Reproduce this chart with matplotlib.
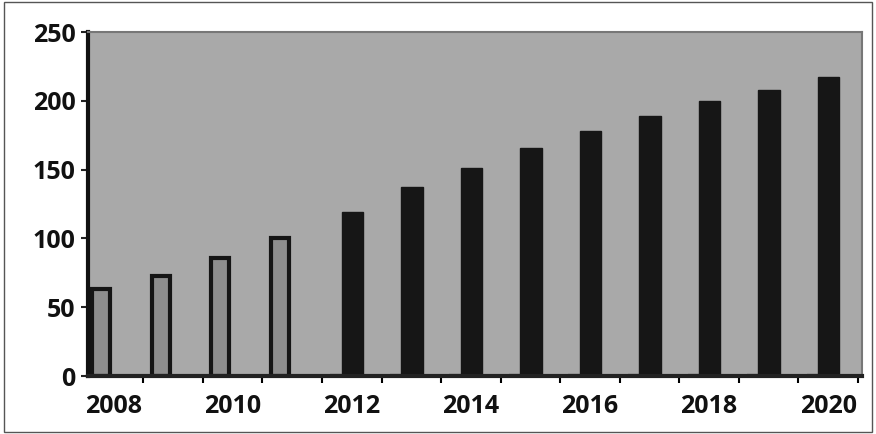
import numpy as np
import matplotlib
matplotlib.use("Agg")
from matplotlib import pyplot as plt
from matplotlib.patches import Rectangle

years = [2008, 2009, 2010, 2011, 2012, 2013, 2014, 2015, 2016, 2017, 2018, 2019, 2020]
actual = [63, 73, 86, 100, 0, 0, 0, 0, 0, 0, 0, 0, 0]
forecast = [1, 1, 1, 1, 119, 137, 151, 166, 178, 189, 200, 208, 217]
tick_years = [2008, 2010, 2012, 2014, 2016, 2018, 2020]

plt.rcParams['font.family'] = ['Open Sans', 'DejaVu Sans']

fig = plt.figure(figsize=(8.76, 4.34), dpi=100)
fig.patch.set_facecolor("white")
# thin frame round the whole chart
fig.patches.append(Rectangle((0.005, 0.005), 0.99, 0.99, transform=fig.transFigure,
                             fill=False, edgecolor="#555555", linewidth=1))

ax = fig.add_axes([88 / 876, 1 - 376 / 434, (862 - 88) / 876, (376 - 32) / 434])
ax.set_facecolor("#a9a9a9")

x = np.arange(len(years))
ax.bar(x - 0.21, actual, width=0.3, color="#8e8e8e", edgecolor="#151515", linewidth=3)
ax.bar(x + 0.01, forecast, width=0.36, color="#161616", edgecolor="#161616", linewidth=1)

ax.set_xlim(-0.43, 12.57)
ax.set_ylim(0, 250)
ax.set_yticks([0, 50, 100, 150, 200, 250])
ax.set_xticks([years.index(y) for y in tick_years])
ax.set_xticklabels([str(y) for y in tick_years])
ax.set_xticks(x + 0.5, minor=True)
ax.tick_params(axis="both", labelsize=18, width=1.5, color="#222222")
ax.tick_params(axis="x", which="major", length=0, pad=13)
ax.tick_params(axis="x", which="minor", length=5, width=1.5, direction="out")
ax.tick_params(axis="y", length=5, pad=4)
for lab in ax.get_xticklabels() + ax.get_yticklabels():
    lab.set_fontweight("bold")
    lab.set_color("#111111")

ax.spines["left"].set_linewidth(3)
ax.spines["left"].set_color("#111111")
ax.spines["bottom"].set_linewidth(3)
ax.spines["bottom"].set_color("#222222")
ax.spines["top"].set_color("#777777")
ax.spines["top"].set_linewidth(1.5)
ax.spines["right"].set_color("#777777")
ax.spines["right"].set_linewidth(1.5)

plt.savefig("out.png", dpi=100)
plt.close()
